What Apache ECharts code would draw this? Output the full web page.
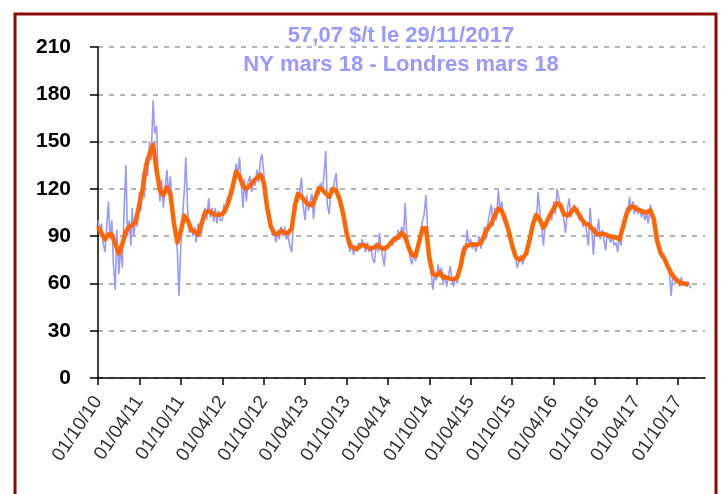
<!DOCTYPE html>
<html><head><meta charset="utf-8">
<script src="https://cdn.jsdelivr.net/npm/echarts@6/dist/echarts.min.js"></script>
<style>html,body{margin:0;padding:0;background:#fff}#c{width:722px;height:494px}</style>
</head><body><div id="c"></div>
<script>
// ---- texts ----
const titleLine1 = '57,07 $/t le 29/11/2017';
const titleLine2 = 'NY mars 18 - Londres mars 18';
// ---- axes ----
const yMin = 0, yMax = 210, yStep = 30;
const xTickLabels = ['01/10/10','01/04/11','01/10/11','01/04/12','01/10/12','01/04/13','01/10/13','01/04/14','01/10/14','01/04/15','01/10/15','01/04/16','01/10/16','01/04/17','01/10/17'];
const xAxisStart = '01/10/10';
const xAxisEnd = '28/01/18';
// ---- smoothed series (orange): values on the 1st and 16th of each month from Oct 2010 ----
const firstMonth = [2010, 10];
const orangeDays = [1, 16];
const orangeValues = [
  96, 92, 88, 91, 91, 85,
  79, 85, 93, 96, 97, 99, 110, 120, 135, 142, 148, 132, 119, 116, 121, 117, 98, 86, 93, 103, 100, 94, 93, 91,
  98, 105, 106, 104.7, 103.5, 103.5, 104, 107, 113, 121, 131, 128, 122, 120, 122, 125, 127, 129, 124, 108, 96, 92, 91, 93.5,
  92, 92, 95, 110, 117, 115, 112, 110, 109.5, 114, 120.5, 119.5, 117, 115, 120, 119, 113, 104, 92, 84, 82.5, 82, 84, 84.5,
  83, 82, 83, 84.5, 82.5, 82, 83.5, 86, 88.5, 89, 92, 90, 83, 78, 77.5, 86, 95, 95, 76, 66, 65, 67, 63.7, 63.7,
  63, 62.6, 64, 71, 81, 84, 84.7, 84.7, 84.7, 85.5, 91, 95, 98, 103, 107.5, 106, 100, 93, 84, 77, 75, 76, 79, 87,
  98, 103.5, 100, 95.3, 99, 103.5, 107.5, 111, 109.5, 104, 103, 105, 108, 105, 101, 98, 97.4, 95, 92.5, 91, 91.5, 91, 90, 89.6,
  89, 88, 96, 104, 108, 109, 107.3, 106.3, 105.5, 105, 106.4, 101, 87, 79.5, 76, 71, 66.5, 63.5, 61.5, 60, 60, 59.5
];
// ---- daily series (blue), sampled on the 1st, 8th, 16th and 23rd of each month from Oct 2010 ----
const blueDays = [1, 8, 16, 23];
const blueValues = [
  100, 92, 98, 86,  80, 95, 112, 88,  100, 72, 56, 94,
  66, 84, 70, 102,  135, 90, 100, 84,  108, 90, 102, 96,  118, 106, 130, 114,  140, 128, 150, 138,  176, 155, 160, 128,
  112, 126, 108, 120,  132, 116, 128, 110,  104, 92, 80, 52,  84, 100, 118, 140,  104, 92, 98, 90,  96, 86, 98, 90,
  92, 102, 108, 100,  114, 102, 108, 99,  108, 98, 106, 100,  100, 110, 104, 115,  110, 118, 116, 126,  136, 128, 140, 124,
  108, 126, 112, 124,  128, 118, 126, 122,  132, 124, 138, 142,  130, 118, 112, 100,  98, 90, 92, 86,  94, 88, 96, 90,
  96, 88, 90, 84,  80, 98, 108, 116,  112, 118, 127, 110,  100, 116, 106, 112,  117, 101, 112, 118,  116, 124, 118, 128,
  144, 110, 104, 116,  118, 124, 130, 114,  116, 108, 104, 98,  96, 86, 80, 86,  78, 84, 80, 86,  82, 88, 84, 80,
  86, 80, 84, 76,  73, 86, 80, 92,  84, 78, 71, 84,  82, 86, 88, 84,  90, 86, 94, 88,  96, 88, 111, 92,
  84, 76, 72, 80,  74, 82, 88, 92,  100, 104, 116, 94,  82, 70, 56, 64,  62, 72, 66, 70,  60, 66, 58, 64,
  71, 62, 58, 64,  60, 66, 70, 76,  84, 78, 94, 86,  88, 82, 86, 80,  84, 90, 82, 88,  96, 88, 98, 104,
  110, 96, 108, 100,  119, 106, 112, 100,  104, 96, 92, 88,  86, 80, 76, 70,  74, 78, 72, 76,  80, 78, 88, 92,
  96, 104, 100, 118,  104, 96, 84, 98,  96, 102, 106, 100,  112, 104, 120, 114,  110, 106, 100, 92,  108, 114, 102, 106,
  110, 104, 108, 100,  104, 96, 100, 94,  84, 108, 94, 78,  96, 90, 101, 88,  94, 88, 81, 92,  92, 86, 90, 84,
  86, 80, 90, 84,  100, 96, 108, 104,  115, 106, 112, 104,  110, 104, 108, 102,  106, 100, 104, 98,  110, 104, 98, 94,
  88, 82, 78, 76,  78, 72, 70, 68,  52, 66, 62, 60,  62, 58, 64, 59,  60, 58, 61, 57.5
];
const lastDate = '29/11/17';
const lastValue = 57.07;

function parseDMY(s) {
  const p = s.split('/');
  return new Date(2000 + (+p[2]), (+p[1]) - 1, +p[0]).getTime();
}
function buildSeries(days, values) {
  const out = [];
  for (let i = 0; i < values.length; i++) {
    const mIdx = Math.floor(i / days.length);
    const d = days[i % days.length];
    const t = new Date(firstMonth[0], firstMonth[1] - 1 + mIdx, d).getTime();
    out.push([t, values[i]]);
  }
  return out;
}
const orangeData = buildSeries(orangeDays, orangeValues);
const blueData = buildSeries(blueDays, blueValues);
blueData.push([parseDMY(lastDate), lastValue]);

const tickTimes = xTickLabels.map(parseDMY);
function labelFor(v) {
  let best = '', bd = Infinity;
  tickTimes.forEach((t, i) => { const d = Math.abs(t - v); if (d < bd) { bd = d; best = xTickLabels[i]; } });
  return bd < 86400000 ? best : '';
}

const FONT = '"Liberation Sans", Arial, sans-serif';
const chart = echarts.init(document.getElementById('c'), null, {renderer: 'canvas'});
chart.setOption({
  animation: false,
  backgroundColor: '#ffffff',
  grid: {left: 98, right: 17, top: 47, bottom: 116, containLabel: false},
  xAxis: {
    type: 'value',
    min: parseDMY(xAxisStart),
    max: parseDMY(xAxisEnd),
    axisLine: {show: true, onZero: false, lineStyle: {color: '#000', width: 1.5}},
    axisTick: {show: true, length: 7, lineStyle: {color: '#000', width: 1.5}, customValues: tickTimes},
    axisLabel: {
      customValues: tickTimes, rotate: 56, margin: 20, showMinLabel: true, showMaxLabel: true,
      fontFamily: FONT, fontSize: 19, color: '#333',
      formatter: v => labelFor(v)
    },
    splitLine: {show: false}
  },
  yAxis: {
    type: 'value', min: yMin, max: yMax, interval: yStep,
    axisLine: {show: true, lineStyle: {color: '#000', width: 1.5}},
    axisTick: {show: true, length: 8, lineStyle: {color: '#000', width: 1.5}},
    axisLabel: {fontFamily: FONT, fontSize: 21, fontWeight: 'bold', color: '#000', margin: 27},
    splitLine: {show: true, lineStyle: {color: '#b4b4b4', width: 2, type: [5, 6]}}
  },
  series: [
    {type: 'line', data: blueData, showSymbol: false, lineStyle: {color: '#9999ff', width: 1.6}, z: 2},
    {type: 'line', data: orangeData, showSymbol: false, lineStyle: {color: '#ff6600', width: 4.5, join: 'round'}, z: 3}
  ],
  graphic: [
    {type: 'rect', shape: {x: 15, y: 14, width: 701, height: 500},
     style: {fill: 'none', stroke: '#8b0a0a', lineWidth: 3}, z: 10, silent: true},
    {type: 'text', x: 401, y: 36, style: {text: titleLine1, align: 'center', verticalAlign: 'middle',
      font: 'bold 22px ' + FONT, fill: '#9999ff'}, z: 10},
    {type: 'text', x: 401, y: 65, style: {text: titleLine2, align: 'center', verticalAlign: 'middle',
      font: 'bold 22px ' + FONT, fill: '#9999ff'}, z: 10}
  ]
});
</script></body></html>
